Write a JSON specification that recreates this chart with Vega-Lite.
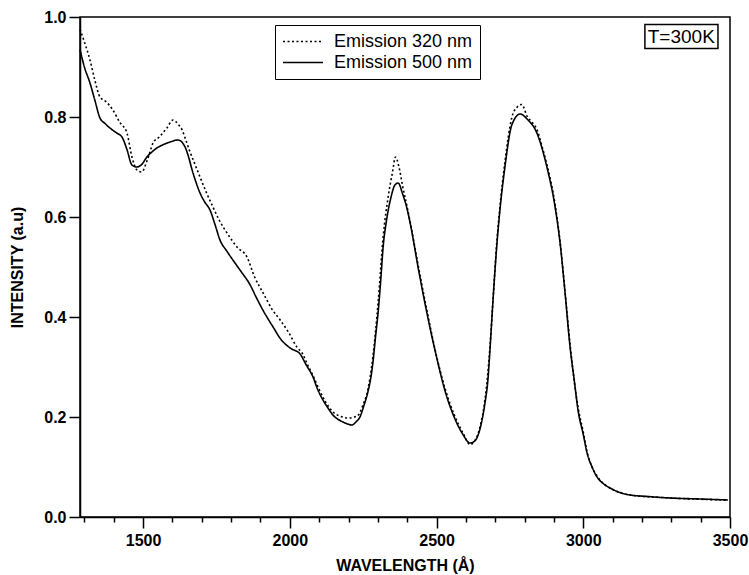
{
  "$schema": "https://vega.github.io/schema/vega-lite/v6.json",
  "width": 650,
  "height": 500,
  "autosize": {"type": "none"},
  "padding": {"left": 80, "top": 17, "right": 19, "bottom": 58},
  "config": {
    "font": "Liberation Sans",
    "view": {"stroke": "black", "strokeWidth": 1.5}
  },
  "datasets": {
    "spectra": [
      {"wl": 1285, "intensity": 0.975, "series": "Emission 320 nm"},
      {"wl": 1300, "intensity": 0.95, "series": "Emission 320 nm"},
      {"wl": 1319, "intensity": 0.914, "series": "Emission 320 nm"},
      {"wl": 1335, "intensity": 0.875, "series": "Emission 320 nm"},
      {"wl": 1353, "intensity": 0.84, "series": "Emission 320 nm"},
      {"wl": 1375, "intensity": 0.83, "series": "Emission 320 nm"},
      {"wl": 1397, "intensity": 0.814, "series": "Emission 320 nm"},
      {"wl": 1420, "intensity": 0.79, "series": "Emission 320 nm"},
      {"wl": 1445, "intensity": 0.768, "series": "Emission 320 nm"},
      {"wl": 1462, "intensity": 0.72, "series": "Emission 320 nm"},
      {"wl": 1479, "intensity": 0.694, "series": "Emission 320 nm"},
      {"wl": 1495, "intensity": 0.69, "series": "Emission 320 nm"},
      {"wl": 1515, "intensity": 0.715, "series": "Emission 320 nm"},
      {"wl": 1534, "intensity": 0.748, "series": "Emission 320 nm"},
      {"wl": 1555, "intensity": 0.76, "series": "Emission 320 nm"},
      {"wl": 1581, "intensity": 0.778, "series": "Emission 320 nm"},
      {"wl": 1602, "intensity": 0.794, "series": "Emission 320 nm"},
      {"wl": 1620, "intensity": 0.785, "series": "Emission 320 nm"},
      {"wl": 1633, "intensity": 0.774, "series": "Emission 320 nm"},
      {"wl": 1645, "intensity": 0.755, "series": "Emission 320 nm"},
      {"wl": 1660, "intensity": 0.73, "series": "Emission 320 nm"},
      {"wl": 1677, "intensity": 0.705, "series": "Emission 320 nm"},
      {"wl": 1694, "intensity": 0.68, "series": "Emission 320 nm"},
      {"wl": 1715, "intensity": 0.65, "series": "Emission 320 nm"},
      {"wl": 1738, "intensity": 0.62, "series": "Emission 320 nm"},
      {"wl": 1760, "intensity": 0.593, "series": "Emission 320 nm"},
      {"wl": 1786, "intensity": 0.568, "series": "Emission 320 nm"},
      {"wl": 1820, "intensity": 0.54, "series": "Emission 320 nm"},
      {"wl": 1854, "intensity": 0.52, "series": "Emission 320 nm"},
      {"wl": 1880, "intensity": 0.48, "series": "Emission 320 nm"},
      {"wl": 1909, "intensity": 0.448, "series": "Emission 320 nm"},
      {"wl": 1940, "intensity": 0.415, "series": "Emission 320 nm"},
      {"wl": 1967, "intensity": 0.394, "series": "Emission 320 nm"},
      {"wl": 1995, "intensity": 0.37, "series": "Emission 320 nm"},
      {"wl": 2024, "intensity": 0.34, "series": "Emission 320 nm"},
      {"wl": 2045, "intensity": 0.325, "series": "Emission 320 nm"},
      {"wl": 2060, "intensity": 0.305, "series": "Emission 320 nm"},
      {"wl": 2079, "intensity": 0.283, "series": "Emission 320 nm"},
      {"wl": 2100, "intensity": 0.255, "series": "Emission 320 nm"},
      {"wl": 2120, "intensity": 0.232, "series": "Emission 320 nm"},
      {"wl": 2147, "intensity": 0.21, "series": "Emission 320 nm"},
      {"wl": 2170, "intensity": 0.202, "series": "Emission 320 nm"},
      {"wl": 2200, "intensity": 0.198, "series": "Emission 320 nm"},
      {"wl": 2230, "intensity": 0.202, "series": "Emission 320 nm"},
      {"wl": 2250, "intensity": 0.225, "series": "Emission 320 nm"},
      {"wl": 2266, "intensity": 0.255, "series": "Emission 320 nm"},
      {"wl": 2283, "intensity": 0.32, "series": "Emission 320 nm"},
      {"wl": 2301, "intensity": 0.43, "series": "Emission 320 nm"},
      {"wl": 2318, "intensity": 0.56, "series": "Emission 320 nm"},
      {"wl": 2335, "intensity": 0.64, "series": "Emission 320 nm"},
      {"wl": 2350, "intensity": 0.69, "series": "Emission 320 nm"},
      {"wl": 2360, "intensity": 0.72, "series": "Emission 320 nm"},
      {"wl": 2372, "intensity": 0.70, "series": "Emission 320 nm"},
      {"wl": 2385, "intensity": 0.66, "series": "Emission 320 nm"},
      {"wl": 2398, "intensity": 0.625, "series": "Emission 320 nm"},
      {"wl": 2410, "intensity": 0.59, "series": "Emission 320 nm"},
      {"wl": 2440, "intensity": 0.495, "series": "Emission 320 nm"},
      {"wl": 2470, "intensity": 0.405, "series": "Emission 320 nm"},
      {"wl": 2500, "intensity": 0.322, "series": "Emission 320 nm"},
      {"wl": 2530, "intensity": 0.255, "series": "Emission 320 nm"},
      {"wl": 2560, "intensity": 0.205, "series": "Emission 320 nm"},
      {"wl": 2590, "intensity": 0.168, "series": "Emission 320 nm"},
      {"wl": 2614, "intensity": 0.145, "series": "Emission 320 nm"},
      {"wl": 2630, "intensity": 0.152, "series": "Emission 320 nm"},
      {"wl": 2648, "intensity": 0.18, "series": "Emission 320 nm"},
      {"wl": 2665, "intensity": 0.235, "series": "Emission 320 nm"},
      {"wl": 2682, "intensity": 0.34, "series": "Emission 320 nm"},
      {"wl": 2692, "intensity": 0.43, "series": "Emission 320 nm"},
      {"wl": 2706, "intensity": 0.555, "series": "Emission 320 nm"},
      {"wl": 2716, "intensity": 0.62, "series": "Emission 320 nm"},
      {"wl": 2733, "intensity": 0.71, "series": "Emission 320 nm"},
      {"wl": 2757, "intensity": 0.80, "series": "Emission 320 nm"},
      {"wl": 2775, "intensity": 0.82, "series": "Emission 320 nm"},
      {"wl": 2790, "intensity": 0.825, "series": "Emission 320 nm"},
      {"wl": 2810, "intensity": 0.80, "series": "Emission 320 nm"},
      {"wl": 2825, "intensity": 0.79, "series": "Emission 320 nm"},
      {"wl": 2842, "intensity": 0.775, "series": "Emission 320 nm"},
      {"wl": 2860, "intensity": 0.74, "series": "Emission 320 nm"},
      {"wl": 2876, "intensity": 0.705, "series": "Emission 320 nm"},
      {"wl": 2904, "intensity": 0.625, "series": "Emission 320 nm"},
      {"wl": 2921, "intensity": 0.55, "series": "Emission 320 nm"},
      {"wl": 2938, "intensity": 0.45, "series": "Emission 320 nm"},
      {"wl": 2955, "intensity": 0.345, "series": "Emission 320 nm"},
      {"wl": 2982, "intensity": 0.22, "series": "Emission 320 nm"},
      {"wl": 3000, "intensity": 0.17, "series": "Emission 320 nm"},
      {"wl": 3013, "intensity": 0.13, "series": "Emission 320 nm"},
      {"wl": 3030, "intensity": 0.10, "series": "Emission 320 nm"},
      {"wl": 3047, "intensity": 0.082, "series": "Emission 320 nm"},
      {"wl": 3070, "intensity": 0.066, "series": "Emission 320 nm"},
      {"wl": 3091, "intensity": 0.058, "series": "Emission 320 nm"},
      {"wl": 3159, "intensity": 0.044, "series": "Emission 320 nm"},
      {"wl": 3296, "intensity": 0.038, "series": "Emission 320 nm"},
      {"wl": 3493, "intensity": 0.034, "series": "Emission 320 nm"},

      {"wl": 1285, "intensity": 0.935, "series": "Emission 500 nm"},
      {"wl": 1300, "intensity": 0.90, "series": "Emission 500 nm"},
      {"wl": 1319, "intensity": 0.868, "series": "Emission 500 nm"},
      {"wl": 1335, "intensity": 0.835, "series": "Emission 500 nm"},
      {"wl": 1353, "intensity": 0.798, "series": "Emission 500 nm"},
      {"wl": 1370, "intensity": 0.787, "series": "Emission 500 nm"},
      {"wl": 1387, "intensity": 0.778, "series": "Emission 500 nm"},
      {"wl": 1410, "intensity": 0.768, "series": "Emission 500 nm"},
      {"wl": 1428, "intensity": 0.76, "series": "Emission 500 nm"},
      {"wl": 1445, "intensity": 0.735, "series": "Emission 500 nm"},
      {"wl": 1462, "intensity": 0.704, "series": "Emission 500 nm"},
      {"wl": 1479, "intensity": 0.70, "series": "Emission 500 nm"},
      {"wl": 1495, "intensity": 0.705, "series": "Emission 500 nm"},
      {"wl": 1513, "intensity": 0.72, "series": "Emission 500 nm"},
      {"wl": 1530, "intensity": 0.73, "series": "Emission 500 nm"},
      {"wl": 1547, "intensity": 0.738, "series": "Emission 500 nm"},
      {"wl": 1570, "intensity": 0.745, "series": "Emission 500 nm"},
      {"wl": 1592, "intensity": 0.75, "series": "Emission 500 nm"},
      {"wl": 1619, "intensity": 0.754, "series": "Emission 500 nm"},
      {"wl": 1643, "intensity": 0.74, "series": "Emission 500 nm"},
      {"wl": 1655, "intensity": 0.72, "series": "Emission 500 nm"},
      {"wl": 1667, "intensity": 0.694, "series": "Emission 500 nm"},
      {"wl": 1680, "intensity": 0.67, "series": "Emission 500 nm"},
      {"wl": 1694, "intensity": 0.648, "series": "Emission 500 nm"},
      {"wl": 1710, "intensity": 0.63, "series": "Emission 500 nm"},
      {"wl": 1728, "intensity": 0.614, "series": "Emission 500 nm"},
      {"wl": 1745, "intensity": 0.585, "series": "Emission 500 nm"},
      {"wl": 1762, "intensity": 0.554, "series": "Emission 500 nm"},
      {"wl": 1785, "intensity": 0.532, "series": "Emission 500 nm"},
      {"wl": 1806, "intensity": 0.514, "series": "Emission 500 nm"},
      {"wl": 1835, "intensity": 0.49, "series": "Emission 500 nm"},
      {"wl": 1864, "intensity": 0.465, "series": "Emission 500 nm"},
      {"wl": 1885, "intensity": 0.44, "series": "Emission 500 nm"},
      {"wl": 1910, "intensity": 0.412, "series": "Emission 500 nm"},
      {"wl": 1943, "intensity": 0.38, "series": "Emission 500 nm"},
      {"wl": 1970, "intensity": 0.355, "series": "Emission 500 nm"},
      {"wl": 2001, "intensity": 0.338, "series": "Emission 500 nm"},
      {"wl": 2035, "intensity": 0.326, "series": "Emission 500 nm"},
      {"wl": 2055, "intensity": 0.305, "series": "Emission 500 nm"},
      {"wl": 2079, "intensity": 0.28, "series": "Emission 500 nm"},
      {"wl": 2095, "intensity": 0.255, "series": "Emission 500 nm"},
      {"wl": 2113, "intensity": 0.234, "series": "Emission 500 nm"},
      {"wl": 2130, "intensity": 0.218, "series": "Emission 500 nm"},
      {"wl": 2147, "intensity": 0.204, "series": "Emission 500 nm"},
      {"wl": 2165, "intensity": 0.195, "series": "Emission 500 nm"},
      {"wl": 2181, "intensity": 0.19, "series": "Emission 500 nm"},
      {"wl": 2197, "intensity": 0.186, "series": "Emission 500 nm"},
      {"wl": 2212, "intensity": 0.184, "series": "Emission 500 nm"},
      {"wl": 2225, "intensity": 0.19, "series": "Emission 500 nm"},
      {"wl": 2239, "intensity": 0.20, "series": "Emission 500 nm"},
      {"wl": 2252, "intensity": 0.222, "series": "Emission 500 nm"},
      {"wl": 2266, "intensity": 0.25, "series": "Emission 500 nm"},
      {"wl": 2275, "intensity": 0.275, "series": "Emission 500 nm"},
      {"wl": 2283, "intensity": 0.308, "series": "Emission 500 nm"},
      {"wl": 2292, "intensity": 0.36, "series": "Emission 500 nm"},
      {"wl": 2301, "intensity": 0.41, "series": "Emission 500 nm"},
      {"wl": 2310, "intensity": 0.475, "series": "Emission 500 nm"},
      {"wl": 2318, "intensity": 0.54, "series": "Emission 500 nm"},
      {"wl": 2330, "intensity": 0.595, "series": "Emission 500 nm"},
      {"wl": 2345, "intensity": 0.64, "series": "Emission 500 nm"},
      {"wl": 2358, "intensity": 0.664, "series": "Emission 500 nm"},
      {"wl": 2369, "intensity": 0.668, "series": "Emission 500 nm"},
      {"wl": 2385, "intensity": 0.645, "series": "Emission 500 nm"},
      {"wl": 2398, "intensity": 0.62, "series": "Emission 500 nm"},
      {"wl": 2410, "intensity": 0.588, "series": "Emission 500 nm"},
      {"wl": 2440, "intensity": 0.49, "series": "Emission 500 nm"},
      {"wl": 2470, "intensity": 0.40, "series": "Emission 500 nm"},
      {"wl": 2500, "intensity": 0.32, "series": "Emission 500 nm"},
      {"wl": 2530, "intensity": 0.25, "series": "Emission 500 nm"},
      {"wl": 2560, "intensity": 0.20, "series": "Emission 500 nm"},
      {"wl": 2590, "intensity": 0.165, "series": "Emission 500 nm"},
      {"wl": 2614, "intensity": 0.148, "series": "Emission 500 nm"},
      {"wl": 2630, "intensity": 0.152, "series": "Emission 500 nm"},
      {"wl": 2648, "intensity": 0.176, "series": "Emission 500 nm"},
      {"wl": 2665, "intensity": 0.228, "series": "Emission 500 nm"},
      {"wl": 2675, "intensity": 0.274, "series": "Emission 500 nm"},
      {"wl": 2682, "intensity": 0.334, "series": "Emission 500 nm"},
      {"wl": 2692, "intensity": 0.43, "series": "Emission 500 nm"},
      {"wl": 2706, "intensity": 0.548, "series": "Emission 500 nm"},
      {"wl": 2716, "intensity": 0.614, "series": "Emission 500 nm"},
      {"wl": 2733, "intensity": 0.70, "series": "Emission 500 nm"},
      {"wl": 2757, "intensity": 0.785, "series": "Emission 500 nm"},
      {"wl": 2785, "intensity": 0.806, "series": "Emission 500 nm"},
      {"wl": 2810, "intensity": 0.795, "series": "Emission 500 nm"},
      {"wl": 2842, "intensity": 0.768, "series": "Emission 500 nm"},
      {"wl": 2876, "intensity": 0.70, "series": "Emission 500 nm"},
      {"wl": 2904, "intensity": 0.62, "series": "Emission 500 nm"},
      {"wl": 2921, "intensity": 0.548, "series": "Emission 500 nm"},
      {"wl": 2938, "intensity": 0.448, "series": "Emission 500 nm"},
      {"wl": 2955, "intensity": 0.34, "series": "Emission 500 nm"},
      {"wl": 2970, "intensity": 0.27, "series": "Emission 500 nm"},
      {"wl": 2982, "intensity": 0.214, "series": "Emission 500 nm"},
      {"wl": 3000, "intensity": 0.165, "series": "Emission 500 nm"},
      {"wl": 3013, "intensity": 0.128, "series": "Emission 500 nm"},
      {"wl": 3030, "intensity": 0.10, "series": "Emission 500 nm"},
      {"wl": 3047, "intensity": 0.08, "series": "Emission 500 nm"},
      {"wl": 3070, "intensity": 0.066, "series": "Emission 500 nm"},
      {"wl": 3091, "intensity": 0.058, "series": "Emission 500 nm"},
      {"wl": 3120, "intensity": 0.05, "series": "Emission 500 nm"},
      {"wl": 3159, "intensity": 0.044, "series": "Emission 500 nm"},
      {"wl": 3220, "intensity": 0.041, "series": "Emission 500 nm"},
      {"wl": 3296, "intensity": 0.038, "series": "Emission 500 nm"},
      {"wl": 3400, "intensity": 0.036, "series": "Emission 500 nm"},
      {"wl": 3493, "intensity": 0.034, "series": "Emission 500 nm"}
    ],
    "note": [{"label": "T=300K"}]
  },
  "resolve": {"axis": {"x": "independent", "y": "independent"}},
  "layer": [
    {
      "data": {"name": "spectra"},
      "mark": {"type": "line", "color": "black", "strokeWidth": 1.6, "interpolate": "monotone"},
      "encoding": {
        "x": {
          "field": "wl", "type": "quantitative",
          "scale": {"domain": [1285, 3500], "nice": false, "zero": false},
          "axis": {
            "orient": "bottom",
            "values": [1300, 1400, 1500, 1600, 1700, 1800, 1900, 2000, 2100, 2200, 2300, 2400, 2500, 2600, 2700, 2800, 2900, 3000, 3100, 3200, 3300, 3400, 3500],
            "format": "d",
            "labelExpr": "datum.value % 500 === 0 ? datum.label : ''",
            "title": "WAVELENGTH (Å)",
            "titleFont": "Liberation Sans", "titleFontSize": 16, "titleFontWeight": "bold", "titleColor": "black",
            "titlePadding": 9,
            "labelFont": "Liberation Sans", "labelFontSize": 16, "labelFontWeight": "bold", "labelColor": "black",
            "labelFlush": false,
            "labelOverlap": false,
            "tickSize": {"condition": {"test": "datum.value % 500 === 0", "value": 11}, "value": 5},
            "tickWidth": 1.5, "tickColor": "black",
            "labelPadding": 4,
            "domainColor": "black", "domainWidth": 1.5,
            "grid": false
          }
        },
        "y": {
          "field": "intensity", "type": "quantitative",
          "scale": {"domain": [0, 1.0], "nice": false},
          "axis": {
            "orient": "left",
            "values": [0, 0.2, 0.4, 0.6, 0.8, 1.0],
            "format": ".1f",
            "title": "INTENSITY (a.u)",
            "titleFont": "Liberation Sans", "titleFontSize": 16, "titleFontWeight": "bold", "titleColor": "black",
            "titlePadding": 18,
            "labelFont": "Liberation Sans", "labelFontSize": 16, "labelFontWeight": "bold", "labelColor": "black",
            "labelPadding": 3,
            "tickSize": 11, "tickWidth": 1.5, "tickColor": "black",
            "domainColor": "black", "domainWidth": 1.5,
            "grid": false
          }
        },
        "strokeDash": {
          "field": "series", "type": "nominal",
          "scale": {"domain": ["Emission 320 nm", "Emission 500 nm"], "range": [[2, 2.5], [1, 0]]},
          "legend": {
            "title": null,
            "orient": "none",
            "legendX": 195,
            "legendY": 8,
            "direction": "vertical",
            "strokeColor": "black",
            "fillColor": "white",
            "padding": 7,
            "clipHeight": 19,
            "symbolType": "stroke",
            "symbolSize": 1600,
            "symbolStrokeWidth": 1.6,
            "symbolStrokeColor": "black",
            "labelFont": "Liberation Sans",
            "labelFontSize": 18,
            "labelColor": "black",
            "labelOffset": 10,
            "rowPadding": 2
          }
        }
      }
    },
    {
      "data": {"name": "note"},
      "mark": {"type": "rect", "fill": "white", "stroke": "black", "strokeWidth": 1.5},
      "encoding": {
        "x": {"datum": 3210, "type": "quantitative", "axis": null},
        "x2": {"datum": 3459},
        "y": {"datum": 0.985, "type": "quantitative", "axis": null},
        "y2": {"datum": 0.937}
      }
    },
    {
      "data": {"name": "note"},
      "mark": {"type": "text", "font": "Liberation Sans", "fontSize": 19, "color": "black", "align": "center", "baseline": "middle"},
      "encoding": {
        "x": {"datum": 3334, "type": "quantitative", "axis": null},
        "y": {"datum": 0.961, "type": "quantitative", "axis": null},
        "text": {"field": "label"}
      }
    }
  ]
}
